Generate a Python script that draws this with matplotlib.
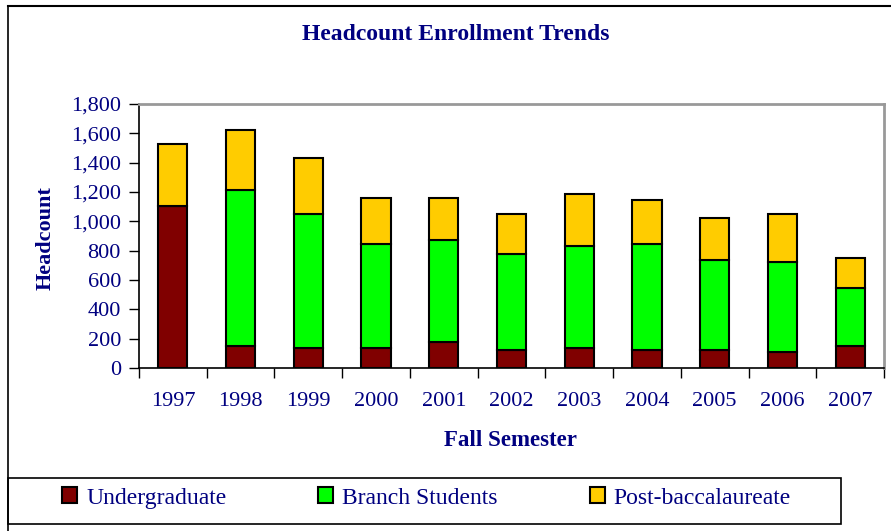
import numpy as np
from matplotlib import pyplot as plt
from matplotlib.lines import Line2D
from matplotlib.patches import Rectangle

years = ["1997", "1998", "1999", "2000", "2001", "2002",
         "2003", "2004", "2005", "2006", "2007"]
undergraduate = [1102, 148, 136, 136, 177, 120, 134, 120, 120, 107, 148]
branch_students = [0, 1063, 914, 707, 696, 655, 696, 723, 614, 613, 397]
post_bacc = [425, 412, 382, 314, 284, 275, 356, 303, 287, 330, 203]
yticks = [0, 200, 400, 600, 800, 1000, 1200, 1400, 1600, 1800]

navy = "#000080"
plt.rcParams['font.family'] = ['Liberation Serif', 'DejaVu Serif']

fig = plt.figure(figsize=(8.91, 5.31), dpi=100)
ax = fig.add_axes([139 / 891, 1 - 368 / 531, (884 - 139) / 891, (368 - 104) / 531])

x = np.arange(len(years))
under = np.array(undergraduate)
branch = np.array(branch_students)
post = np.array(post_bacc)
w = 0.43
ax.bar(x, under, w, color="#800000", edgecolor="black", linewidth=1.5,
       label="Undergraduate", zorder=3)
ax.bar(x, branch, w, bottom=under, color="#00FF00", edgecolor="black",
       linewidth=1.5, label="Branch Students", zorder=3)
ax.bar(x, post, w, bottom=under + branch, color="#FFCC00", edgecolor="black",
       linewidth=1.5, label="Post-baccalaureate", zorder=3)

ax.set_xlim(-0.5, len(years) - 0.5)
ax.set_ylim(0, 1800)
ax.set_yticks(yticks)
ax.set_yticklabels([f"{v:,}" for v in yticks])
# ticks sit between the categories, labels centred under the bars
ax.set_xticks(np.arange(-0.5, len(years), 1.0))
ax.set_xticklabels([])
ax.set_xticks(x, minor=True)
ax.set_xticklabels(years, minor=True)
ax.tick_params(axis="x", which="minor", length=0, pad=17)
ax.tick_params(axis="x", which="major", length=7, width=1, color="black", direction="out")
ax.tick_params(axis="y", length=7, width=1, direction="out", pad=6)
ax.tick_params(which="both", labelsize=16, labelcolor=navy)

for s in ["left", "bottom"]:
    ax.spines[s].set_color("black")
    ax.spines[s].set_linewidth(1.2)
for s in ["top", "right"]:
    ax.spines[s].set_color("#999999")
    ax.spines[s].set_linewidth(2)

fig.text(456 / 891, 1 - 34 / 531, "Headcount Enrollment Trends", ha="center", va="center",
         fontsize=17, fontweight="bold", color=navy)
fig.text(510 / 891, 1 - 440 / 531, "Fall Semester", ha="center", va="center",
         fontsize=16.5, fontweight="bold", color=navy)
fig.text(46 / 891, 1 - 238 / 531, "Headcount", ha="center", va="center", rotation=90,
         fontsize=16, fontweight="bold", color=navy)

# outer chart frame and legend box
fig.add_artist(Line2D([8 / 891, 8 / 891], [0, 1 - 6 / 531], transform=fig.transFigure,
                      color="black", linewidth=1.2))
fig.add_artist(Line2D([8 / 891, 1], [1 - 6 / 531, 1 - 6 / 531], transform=fig.transFigure,
                      color="black", linewidth=1.5))
fig.add_artist(Rectangle((8 / 891, 1 - 524 / 531), (841 - 8) / 891, (524 - 478) / 531,
                         transform=fig.transFigure, fill=False, edgecolor="black",
                         linewidth=1.2))

handles, labels = ax.get_legend_handles_labels()
fig.legend(handles, labels, loc="center left", bbox_to_anchor=(41 / 891, 1 - 498 / 531),
           ncol=3, frameon=False, fontsize=17, labelcolor=navy, handlelength=0.63,
           handleheight=0.63, handletextpad=0.38, columnspacing=3.9)

fig.savefig("out.png", dpi=100)
